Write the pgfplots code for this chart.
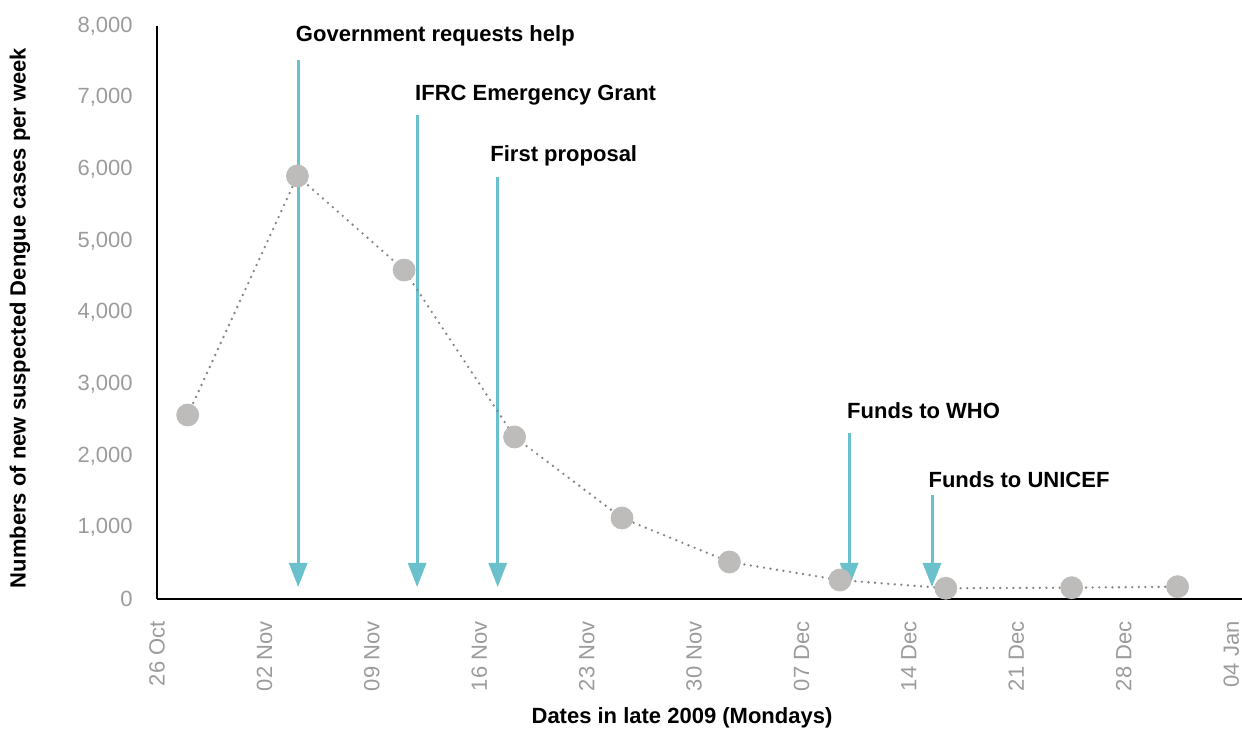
\documentclass[border=0pt]{standalone}
\usepackage{fontspec}
\setmainfont{Liberation Sans}
\usepackage{pgfplots}
\pgfplotsset{compat=1.18}
\usetikzlibrary{arrows.meta,calc}
\definecolor{tickgrey}{HTML}{9B9B9B}
\definecolor{markgrey}{HTML}{BDBCBA}
\definecolor{linegrey}{HTML}{858585}
\definecolor{teal}{HTML}{6AC1CB}
\begin{document}
\begin{tikzpicture}
\fontsize{11}{13}\selectfont
\begin{axis}[
  name=ax, at={(0,0)}, anchor=south west,
  scale only axis, width=542.5pt, height=286.5pt,
  xmin=0, xmax=70.7, ymin=0, ymax=8000,
  axis x line=bottom, axis y line=left,
  axis line style={-, line width=1.2pt, black},
  clip=false,
  xtick={0,7,14,21,28,35,42,49,56,63,70},
  xticklabels={26 Oct,02 Nov,09 Nov,16 Nov,23 Nov,30 Nov,07 Dec,14 Dec,21 Dec,28 Dec,04 Jan},
  x tick label style={rotate=90, anchor=east, inner sep=0pt, text=tickgrey, font=\fontsize{11}{13}\selectfont},
  xticklabel shift=11pt,
  ytick={0,1000,...,8000},
  y tick label style={anchor=east, inner sep=0pt, text=tickgrey, font=\fontsize{11}{13}\selectfont},
  yticklabel shift=12pt,
  major tick length=0pt,
  /pgf/number format/assume math mode=true,
  /pgf/number format/1000 sep={,},
  scaled y ticks=false,
]
% event arrows
\addplot[teal, line width=1.5pt, -{Triangle[width=9pt,length=12pt]}] coordinates {(9.2,7525) (9.2,168)};
\addplot[teal, line width=1.5pt, -{Triangle[width=9pt,length=12pt]}] coordinates {(16.95,6757) (16.95,168)};
\addplot[teal, line width=1.5pt, -{Triangle[width=9pt,length=12pt]}] coordinates {(22.2,5892) (22.2,168)};
\addplot[teal, line width=1.5pt, -{Triangle[width=9pt,length=12pt]}] coordinates {(45.1,2318) (45.1,168)};
\addplot[teal, line width=1.5pt, -{Triangle[width=9pt,length=12pt]}] coordinates {(50.5,1452) (50.5,168)};
% data line
\addplot[linegrey, line width=1.3pt, dash pattern=on 0pt off 3.3pt, line cap=round] coordinates {
(2.0,2569) (9.15,5906) (16.1,4593) (23.3,2262) (30.3,1131) (37.3,517) (44.5,265) (51.4,150) (59.6,158) (66.5,172)};
\addplot[only marks, mark=*, mark size=5.5pt, color=markgrey] coordinates {
(2.0,2569) (9.15,5906) (16.1,4593) (23.3,2262) (30.3,1131) (37.3,517) (44.5,265) (51.4,150) (59.6,158) (66.5,172)};
% labels
\node[anchor=base west, inner sep=0pt, font=\fontsize{11}{13}\selectfont\bfseries] at (axis cs:9.03,7782) {Government requests help};
\node[anchor=base west, inner sep=0pt, font=\fontsize{11}{13}\selectfont\bfseries] at (axis cs:16.8,6966) {IFRC Emergency Grant};
\node[anchor=base west, inner sep=0pt, font=\fontsize{11}{13}\selectfont\bfseries] at (axis cs:21.7,6105) {First proposal};
\node[anchor=base west, inner sep=0pt, font=\fontsize{11}{13}\selectfont\bfseries] at (axis cs:44.95,2523) {Funds to WHO};
\node[anchor=base west, inner sep=0pt, font=\fontsize{11}{13}\selectfont\bfseries] at (axis cs:50.25,1559) {Funds to UNICEF};
\end{axis}
\node[rotate=90, font=\fontsize{11}{13}\selectfont\bfseries] at ($(ax.south west)+(-68.5pt,140.5pt)$) {Numbers of new suspected Dengue cases per week};
\node[font=\fontsize{11}{13}\selectfont\bfseries] at ($(ax.south west)+(262.5pt,-59.5pt)$) {Dates in late 2009 (Mondays)};
\pgfresetboundingbox
\path[use as bounding box] ($(ax.south west)+(-78.5pt,-66pt)$) rectangle ($(ax.north east)+(0,13pt)$);
\end{tikzpicture}
\end{document}
